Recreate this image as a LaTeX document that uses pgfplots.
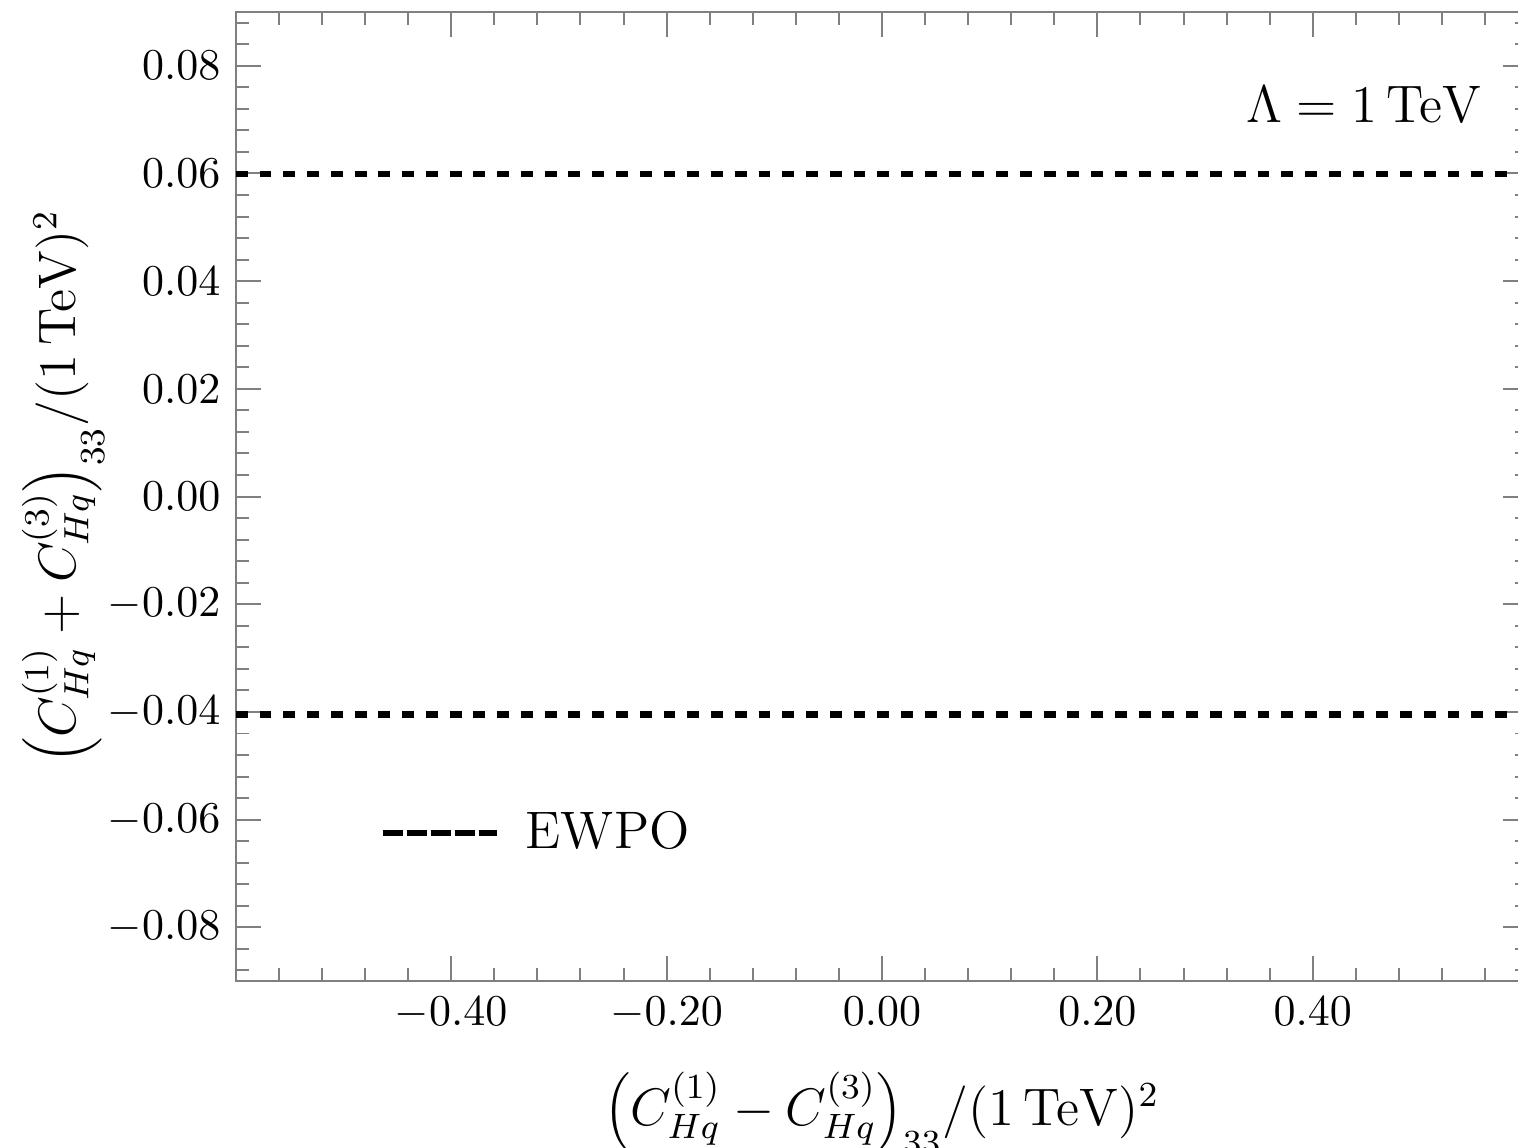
\documentclass[border=0pt]{standalone}
\usepackage{pgfplots}
\pgfplotsset{compat=1.18}
\definecolor{framegray}{HTML}{808080}

\begin{document}
\begin{tikzpicture}
\begin{axis}[
  scale only axis,
  width=293.7pt, height=220.3pt,
  xmin=-0.6, xmax=0.6, ymin=-0.09, ymax=0.09,
  xtick={-0.4,-0.2,0,0.2,0.4},
  ytick={-0.08,-0.06,-0.04,-0.02,0,0.02,0.04,0.06,0.08},
  minor xtick={-0.56,-0.52,-0.48,-0.44,-0.36,-0.32,-0.28,-0.24,-0.16,-0.12,-0.08,-0.04,
    0.04,0.08,0.12,0.16,0.24,0.28,0.32,0.36,0.44,0.48,0.52,0.56},
  minor ytick={-0.088,-0.084,-0.076,-0.072,-0.068,-0.064,-0.056,-0.052,-0.048,-0.044,
    -0.036,-0.032,-0.028,-0.024,-0.016,-0.012,-0.008,-0.004,0.004,0.008,0.012,0.016,
    0.024,0.028,0.032,0.036,0.044,0.048,0.052,0.056,0.064,0.068,0.072,0.076,0.084,0.088},
  scaled ticks=false,
  tick pos=both, xticklabel pos=lower, yticklabel pos=left,
  tick align=inside,
  major tick length=5.7pt, minor tick length=3pt,
  axis line style={framegray, line width=0.45pt},
  every tick/.style={framegray, line width=0.45pt},
  every minor tick/.style={framegray, line width=0.45pt},
  /pgf/number format/fixed,
  /pgf/number format/fixed zerofill,
  /pgf/number format/precision=2,
  label style={font=\large},
  xlabel={$\Big(C_{Hq}^{(1)}-C_{Hq}^{(3)}\Big)_{33}/(1\,\mathrm{TeV})^2$},
  ylabel={$\Big(C_{Hq}^{(1)}+C_{Hq}^{(3)}\Big)_{33}/(1\,\mathrm{TeV})^2$},
  xlabel style={yshift=-3pt},
  ylabel style={yshift=-6pt, xshift=2.3pt},
  legend style={at={(axis cs:-0.4676,-0.0625)}, anchor=west, draw=none, fill=none,
    inner sep=0pt, font=\large, nodes={inner sep=2pt}},
  legend image code/.code={\draw[black, line width=1.5pt, dash pattern=on 4.7pt off 0.75pt]
    (0pt,0pt) -- (26pt,0pt); \path (29.8pt,0pt);},
]
\addplot[black, line width=1.5pt, dash pattern=on 2.7pt off 2.7pt]
  coordinates {(-0.6,0.0599)(0.6,0.0599)};
\addlegendentry{EWPO}
\addplot[black, line width=1.5pt, dash pattern=on 2.7pt off 2.7pt, forget plot]
  coordinates {(-0.6,-0.0405)(0.6,-0.0405)};
\node[anchor=base east, inner sep=0pt, font=\large] at (axis cs:0.5576,0.0695)
  {$\Lambda = 1\,\mathrm{TeV}$};
\end{axis}
\pgfresetboundingbox
\path[use as bounding box] ([xshift=-53.6pt,yshift=-37.7pt]current axis.south west)
  rectangle ([xshift=-2.3pt,yshift=2.7pt]current axis.north east);
\end{tikzpicture}
\end{document}
